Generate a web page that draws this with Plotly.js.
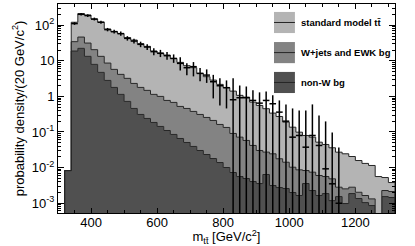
<!DOCTYPE html>
<html>
<head>
<meta charset="utf-8">
<script src="https://cdn.plot.ly/plotly-3.0.1.min.js"></script>
<style>html,body{margin:0;padding:0;background:#fff;}#chart{width:415px;height:246px;}</style>
</head>
<body>
<div id="chart"></div>
<script>
// bin centres, 20 GeV/c^2 bins
const binCenters = [330,350,370,390,410,430,450,470,490,510,530,550,570,590,610,630,650,670,690,710,
  730,750,770,790,810,830,850,870,890,910,930,950,970,990,1010,1030,1050,1070,1090,1110,
  1130,1150,1170,1190,1210,1230,1250,1270,1290,1310];
const binWidth = 20;

// standard model ttbar
const ttbar = [0,87.3,167,163,129,109,70.0,60.7,54.2,41.9,36.2,28.7,24.1,17.8,15.6,13.8,11.0,8.55,6.86,6.05,
  4.13,3.33,2.67,2.02,1.63,1.32,1.00,0.897,0.648,0.527,0.424,0.315,0.255,0.175,0.126,0.090,0.0714,0.0640,0.0456,0.0389,
  0.0311,0.0242,0.0218,0.0176,0.0137,0.0114,0.0101,0.00557,0.00297,0.00167];
// W+jets and EWK bg
const wjets = [0,15.8,24.3,18.3,12.7,8.66,5.85,3.97,3.03,2.50,1.86,1.48,1.24,0.955,0.857,0.661,0.593,0.457,0.408,0.339,
  0.281,0.233,0.193,0.149,0.124,0.0836,0.0658,0.0528,0.0377,0.0266,0.0207,0.0212,0.0149,0.0115,0.0082,0.00698,0.00468,0.00513,0.00433,0.00372,
  0.00364,0.00127,0.00154,0.00094,0.00067,0.0006,0.00046,0,0.00073,0.00068];
// non-W bg
const nonW = [0.0082,18.9,22.5,13.4,7.96,4.74,2.82,1.79,1.14,0.723,0.459,0.311,0.240,0.185,0.143,0.110,0.0851,0.0656,0.0506,0.0391,
  0.0301,0.0232,0.0179,0.0138,0.0100,0.00723,0.00557,0.00490,0.00403,0.00354,0.00635,0.00311,0.00273,0.00256,0.00198,0.00163,0.00354,0.00225,0.00163,0.00185,
  0.00117,0.00152,0.00097,0.00185,0.00134,0.00103,0.00085,0,0.00152,0.00143];

// data points
const dataMass = [350,370,390,410,430,450,470,490,510,530,550,570,590,610,630,650,670,690,710,730,
  750,770,790,810,830,850,870,890,910,930,950,970,990,1010,1030,1050,1070,1090,1110,1130,1150];
const dataVal = [112,204,188,150,122,75.7,66.5,58.4,43.0,36.1,29.2,24.5,18.2,16.3,14.0,11.7,8.51,6.43,6.87,4.44,
  3.98,2.59,2.00,1.76,0.807,0.918,0.918,0.771,0.647,0.771,0.622,0.361,0.201,0.0714,0.0796,0.0373,0.0796,0.0417,0.00918,0.00348,0.000986];
const dataHigh = [122,221,204,165,134,84.5,74.7,66.5,49.6,42.2,34.7,29.5,22.5,20.4,17.9,15.2,12.6,8.51,9.25,6.35,
  5.76,4.04,3.22,2.82,3.22,2.04,1.91,1.48,1.30,1.38,1.07,0.771,0.596,0.459,0.403,0.403,0.596,0.292,0.198,0.0968,0.0366];
const dataLow = [103,188,172,137,110,67.8,58.7,50.9,37.1,30.7,24.3,20.1,14.5,12.8,10.8,8.79,5.40,3.91,3.66,2.65,
  2.40,0.879,0.557,0.459,0,0,0,0,0,0,0,0,0,0,0,0,0,0,0,0,0];

const legendLabels = ['standard model tt\u0304', 'W+jets and EWK bg', 'non-W bg'];
const colors = {light: '#b4b4b4', mid: '#838383', dark: '#505050', line: '#262626'};

const FLOOR = 1e-7;
const n = binCenters.length;
const cumD = nonW.slice();
const cumM = nonW.map((v, i) => v + wjets[i]);
const cumT = cumM.map((v, i) => v + ttbar[i]);

function stepXY(vals) {
  const h = binWidth / 2;
  const xs = [binCenters[0] - h], ys = [FLOOR];
  for (let i = 0; i < n; i++) { xs.push(binCenters[i] - h); ys.push(Math.max(vals[i], FLOOR)); }
  xs.push(binCenters[n - 1] + h); ys.push(Math.max(vals[n - 1], FLOOR));
  xs.push(binCenters[n - 1] + h); ys.push(FLOOR);
  return {xs, ys};
}

const base = stepXY(binCenters.map(() => 0));
const traces = [{
  x: base.xs, y: base.ys, mode: 'lines', line: {width: 0, shape: 'hv'},
  showlegend: false, hoverinfo: 'skip'
}];
[[cumD, colors.dark, legendLabels[2]], [cumM, colors.mid, legendLabels[1]], [cumT, colors.light, legendLabels[0]]]
  .forEach(([vals, col, name]) => {
    const s = stepXY(vals);
    traces.push({
      x: s.xs, y: s.ys, name: name, mode: 'lines', fill: 'tonexty', fillcolor: col,
      line: {color: colors.line, width: 1, shape: 'hv'}, showlegend: false, hoverinfo: 'skip'
    });
  });

traces.push({
  x: dataMass, y: dataVal, mode: 'markers', name: 'data',
  marker: {size: 1, color: 'rgba(0,0,0,0)'},
  error_x: {type: 'constant', value: binWidth / 2, width: 0, thickness: 1.5, color: '#000'},
  error_y: {type: 'data', symmetric: false,
    array: dataHigh.map((h, i) => h - dataVal[i]),
    arrayminus: dataLow.map((l, i) => dataVal[i] - Math.max(l, FLOOR)),
    width: 0, thickness: 1.5, color: '#000'},
  showlegend: false, hoverinfo: 'skip'
});

// minor ticks for log axis
const yMinor = [];
for (let d = -4; d <= 3; d++) for (let m = 2; m <= 9; m++) yMinor.push(m * Math.pow(10, d));

// legend drawn as large swatches
const shapes = [], annotations = [];
const legCols = [colors.light, colors.mid, colors.dark];
const legTop = [0.962, 0.818, 0.675];
const swH = 0.101;
legCols.forEach((c, i) => {
  shapes.push({type: 'rect', xref: 'paper', yref: 'paper', x0: 0.641, x1: 0.703,
    y0: legTop[i] - swH, y1: legTop[i], fillcolor: c, line: {width: 0}});
  shapes.push({type: 'line', xref: 'paper', yref: 'paper', x0: 0.641, x1: 0.703,
    y0: legTop[i] - swH / 2, y1: legTop[i] - swH / 2, line: {color: colors.line, width: 1}});
  annotations.push({xref: 'paper', yref: 'paper', x: 0.714, y: legTop[i] - swH / 2,
    xanchor: 'left', yanchor: 'middle', showarrow: false,
    text: '<b>' + legendLabels[i] + '</b>', font: {size: 9.5, color: '#000'}});
});

const layout = {
  width: 415, height: 246,
  margin: {l: 58, r: 20, t: 4, b: 33},
  paper_bgcolor: '#fff', plot_bgcolor: '#fff',
  font: {family: '"Liberation Sans", Arial, sans-serif', size: 13, color: '#000'},
  showlegend: false,
  xaxis: {
    range: [300, 1320], tick0: 0, dtick: 200, ticks: 'inside', ticklen: 5, tickcolor: '#000',
    showline: true, linecolor: '#000', linewidth: 1, mirror: 'allticks', showgrid: false, zeroline: false,
    minor: {dtick: 50, tick0: 0, ticks: 'inside', ticklen: 3, tickcolor: '#000', showgrid: false},
    tickfont: {size: 13}, ticklabelstandoff: -3,
    title: {text: 'm<sub>tt\u0304</sub> [GeV/c<sup>2</sup>]', font: {size: 13}, standoff: 4}
  },
  yaxis: {
    type: 'log', range: [-3.28, 2.6],
    tickmode: 'array', tickvals: [0.001, 0.01, 0.1, 1, 10, 100],
    ticktext: ['10<sup>-3</sup>', '10<sup>-2</sup>', '10<sup>-1</sup>', '1', '10', '10<sup>2</sup>'],
    ticks: 'inside', ticklen: 6, tickcolor: '#000',
    showline: true, linecolor: '#000', linewidth: 1, mirror: 'allticks', showgrid: false, zeroline: false,
    minor: {tickmode: 'array', tickvals: yMinor, ticks: 'inside', ticklen: 3, tickcolor: '#000', showgrid: false},
    tickfont: {size: 13},
    title: {text: 'probability density/(20 GeV/c<sup>2</sup>)', font: {size: 13}, standoff: 4}
  },
  shapes: shapes,
  annotations: annotations
};

Plotly.newPlot('chart', traces, layout, {staticPlot: true, displayModeBar: false});
</script>
</body>
</html>
